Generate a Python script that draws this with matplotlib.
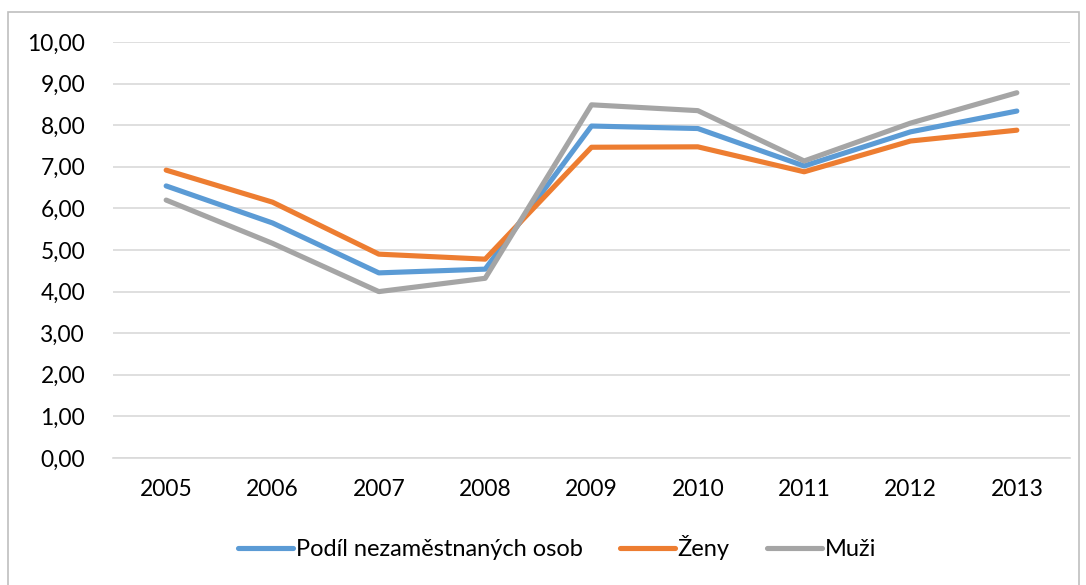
import matplotlib.pyplot as plt
from matplotlib.patches import Rectangle

# Data
years = ["2005", "2006", "2007", "2008", "2009", "2010", "2011", "2012", "2013"]
podil = [6.54, 5.65, 4.45, 4.54, 7.98, 7.92, 7.02, 7.84, 8.34]
zeny = [6.92, 6.15, 4.90, 4.78, 7.47, 7.48, 6.88, 7.62, 7.88]
muzi = [6.20, 5.16, 4.00, 4.32, 8.49, 8.35, 7.14, 8.05, 8.78]
y_ticks = [0, 1, 2, 3, 4, 5, 6, 7, 8, 9, 10]

plt.rcParams['font.family'] = ['Lato', 'DejaVu Sans']

fig = plt.figure(figsize=(10.86, 5.85), dpi=100)
ax = fig.add_axes([113 / 1086, 1 - 458 / 585, (1070 - 113) / 1086, (458 - 42) / 585])

x = range(len(years))
ax.plot(x, podil, color='#5B9BD5', lw=3.7, label='Podíl nezaměstnaných osob', solid_capstyle='round')
ax.plot(x, zeny, color='#ED7D31', lw=3.7, label='Ženy', solid_capstyle='round')
ax.plot(x, muzi, color='#A5A5A5', lw=3.7, label='Muži', solid_capstyle='round')

ax.set_xlim(-0.5, len(years) - 0.5)
ax.set_ylim(0, 10)
ax.set_yticks(y_ticks)
ax.set_yticklabels([f"{v:.2f}".replace('.', ',') for v in y_ticks])
ax.set_xticks(list(x))
ax.set_xticklabels(years)
ax.tick_params(length=0, labelsize=16.4, colors='#000000')
ax.tick_params(axis='x', pad=15)
ax.tick_params(axis='y', pad=20)
ax.grid(axis='y', color='#D9D9D9', lw=1.2)
ax.set_axisbelow(True)
for s in ['top', 'right', 'left']:
    ax.spines[s].set_visible(False)
ax.spines['bottom'].set_color('#D9D9D9')
ax.spines['bottom'].set_linewidth(1.2)

leg = fig.legend(loc='center', bbox_to_anchor=(557 / 1086, 1 - 548 / 585), ncol=3,
                 frameon=False, fontsize=17, handlelength=2.33, handletextpad=0.13,
                 columnspacing=1.57, borderpad=0, borderaxespad=0)

# outer chart frame
fig.patches.append(Rectangle((8 / 1086, -0.01), (1079 - 8) / 1086, 1 - 12 / 585 + 0.01,
                             transform=fig.transFigure, fill=False,
                             edgecolor='#BFBFBF', lw=1.2))

fig.savefig('out.png', dpi=100)
